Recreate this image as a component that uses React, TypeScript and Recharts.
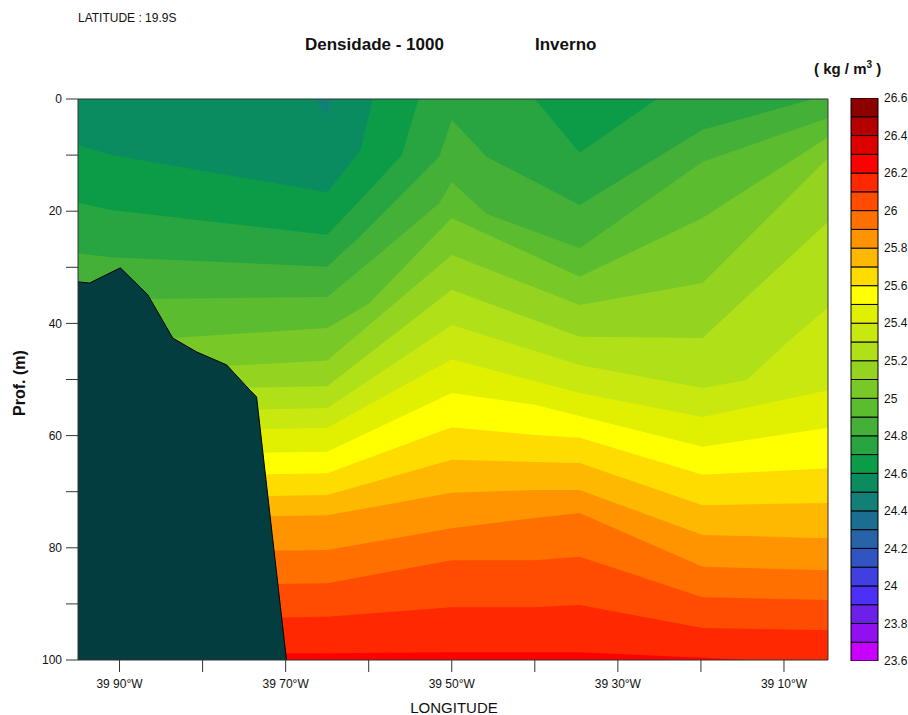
import React from "react";
import { AreaChart, Area, XAxis, YAxis, CartesianGrid, BarChart, Bar } from "recharts";

type Pt = [number, number]; // [longitude (minutes, 39°xx'W), depth (m)]

// isopycnal depths
const c245: Pt[] = [[95, 0], [66.5, 0], [65, 2.9], [64.5, 0], [4.7, 0]];
const c246: Pt[] = [[95, 8.2], [91, 10], [65, 16.6], [61, 9.2], [59.5, 0], [4.7, 0]];
const c247: Pt[] = [[95, 18.5], [91, 19.8], [65, 24.2], [61, 18], [56, 10], [54, 0], [40, 0], [34.6, 9.6], [25.3, 0], [4.7, 0]];
const c248: Pt[] = [[95, 27.5], [91, 28.2], [65, 29.9], [61, 24.4], [51.5, 10.3], [50, 3.7], [45.8, 10.3], [34.6, 18.9], [19.8, 5.5], [6.5, 0], [4.7, 0]];
const c249: Pt[] = [[95, 35.8], [65, 35.3], [60, 29.2], [51.5, 18.6], [50, 14.8], [45.8, 20.5], [34.6, 26.6], [19.8, 11.2], [4.7, 3.4]];
const c250: Pt[] = [[95, 43], [83.6, 42.6], [65, 40.8], [60, 36.5], [50, 21.2], [34.6, 31.7], [19.8, 21.2], [4.7, 6.8]];
const c251: Pt[] = [[95, 48.2], [77.1, 47.6], [65, 46.6], [50, 27.8], [34.6, 36.7], [19.8, 32.8], [4.7, 10.5]];
const c252: Pt[] = [[95, 52], [65, 51.2], [50, 34], [34.6, 42.4], [19.8, 42.6], [4.7, 21.9]];
const c253: Pt[] = [[95, 56], [65, 55.1], [50, 40.3], [34.6, 47.4], [19.8, 51.5], [14.5, 50.1], [9.3, 43], [4.7, 37.1]];
const c254: Pt[] = [[95, 59.5], [65, 58.6], [50, 46.4], [34.6, 52.4], [19.8, 56.7], [4.7, 51.9]];
const c255: Pt[] = [[95, 63.5], [65, 62.9], [50, 52.4], [40, 54.5], [34.6, 56.5], [19.8, 62], [4.7, 58.6]];
const c256: Pt[] = [[95, 67.5], [65, 66.7], [50, 58.5], [40, 59.9], [34.6, 60.4], [19.8, 67], [4.7, 65.8]];
const c257: Pt[] = [[95, 71.3], [65, 70.6], [50, 64.3], [40, 64.7], [34.6, 64.9], [19.8, 72.4], [4.7, 72]];
const c258: Pt[] = [[95, 75], [65, 74.2], [50, 70.2], [40, 69.7], [34.6, 69.7], [19.8, 77.7], [4.7, 78.3]];
const c259: Pt[] = [[95, 81], [65, 80.4], [50, 76.5], [40, 74.7], [34.6, 73.8], [19.8, 83.4], [4.7, 84]];
const c260: Pt[] = [[95, 87], [65, 86.3], [50, 82.2], [40, 82.2], [34.6, 81.6], [19.8, 88.8], [4.7, 89.3]];
const c261: Pt[] = [[95, 93], [65, 92.3], [50, 90.6], [40, 90.6], [34.6, 90.2], [19.8, 94.3], [4.7, 94.7]];
const c262: Pt[] = [[95, 99], [65, 98.8], [50, 98.6], [34.6, 98.6], [19.8, 99.6], [14.5, 100], [4.7, 100]];

// sea floor / shelf
const land: Pt[] = [[95, 32.6], [93.6, 32.8], [89.9, 30.1], [86.6, 34.9], [83.6, 42.6], [80.7, 45.1], [77.1, 47.4], [74.3, 51.9], [73.5, 53.1], [69.9, 100]];

// colour scale 23.6 .. 26.6 kg/m3
const cbLevels = [23.6, 23.7, 23.8, 23.9, 24, 24.1, 24.2, 24.3, 24.4, 24.5, 24.6, 24.7, 24.8, 24.9, 25, 25.1, 25.2, 25.3, 25.4, 25.5, 25.6, 25.7, 25.8, 25.9, 26, 26.1, 26.2, 26.3, 26.4, 26.5, 26.6];
const bandColors = [
  "#c800ff", "#9010f0", "#6c20e8", "#4c30f8", "#4040e0", "#3054c0", "#2862a8", "#1c6e90", "#138078", "#0a8c60",
  "#0c9c48", "#28a440", "#44b038", "#5cbc30", "#78c828", "#94d420", "#b0e018", "#c8e810", "#e0f000", "#ffff00",
  "#ffdc00", "#ffb800", "#ff9400", "#ff7000", "#ff4c00", "#ff2800", "#ff0000", "#dc0000", "#b40000", "#8c0000",
];
const cbTicks = [23.6, 23.8, 24, 24.2, 24.4, 24.6, 24.8, 25, 25.2, 25.4, 25.6, 25.8, 26, 26.2, 26.4, 26.6];

const lonTicks = [90, 80, 70, 60, 50, 40, 30, 20, 10];
const lonLabels = [90, 70, 50, 30, 10];
const depthTicks = [0, 10, 20, 30, 40, 50, 60, 70, 80, 90, 100];

const contours = [
  { level: 24.5, pts: c245 }, { level: 24.6, pts: c246 }, { level: 24.7, pts: c247 },
  { level: 24.8, pts: c248 }, { level: 24.9, pts: c249 }, { level: 25, pts: c250 },
  { level: 25.1, pts: c251 }, { level: 25.2, pts: c252 }, { level: 25.3, pts: c253 },
  { level: 25.4, pts: c254 }, { level: 25.5, pts: c255 }, { level: 25.6, pts: c256 },
  { level: 25.7, pts: c257 }, { level: 25.8, pts: c258 }, { level: 25.9, pts: c259 },
  { level: 26, pts: c260 }, { level: 26.1, pts: c261 }, { level: 26.2, pts: c262 },
];

const series = [
  ...contours.map((c, i) => ({ key: `c${i}`, pts: c.pts, fill: bandColors[cbLevels.indexOf(c.level)] })),
  { key: "land", pts: land, fill: "#033d3f" },
];

const lons = Array.from(new Set(series.flatMap((s) => s.pts.map((p) => p[0])))).sort((a, b) => b - a);
const rows = lons.map((lon) => {
  const row: Record<string, number> = { lon };
  series.forEach((s) => {
    const p = s.pts.find((q) => q[0] === lon);
    if (p) row[s.key] = p[1];
  });
  return row;
});

const cbRow: Record<string, number | string> = { name: "kg/m3", base: cbLevels[0] };
bandColors.forEach((_, i) => {
  cbRow[`b${i}`] = cbLevels[i + 1] - cbLevels[i];
});

const axisColor = "#333";
const tickFont = { fontSize: 12, fill: "#111" };

export default function App() {
  return (
    <div
      style={{
        position: "absolute",
        left: 0,
        top: 0,
        width: 908,
        height: 715,
        background: "#fff",
        fontFamily: "'Liberation Sans', Arial, sans-serif",
        color: "#111",
      }}
    >
      <div style={{ position: "absolute", left: 78, top: 11, fontSize: 12 }}>LATITUDE : 19.9S</div>
      <div style={{ position: "absolute", left: 305, top: 35, fontSize: 17, fontWeight: "bold", whiteSpace: "nowrap" }}>
        Densidade - 1000
      </div>
      <div style={{ position: "absolute", left: 535, top: 35, fontSize: 17, fontWeight: "bold" }}>Inverno</div>
      <div style={{ position: "absolute", left: 814, top: 60, fontSize: 15, fontWeight: "bold", whiteSpace: "nowrap" }}>
        ( kg / m<sup style={{ fontSize: 10, lineHeight: 0 }}>3</sup> )
      </div>
      <div
        style={{
          position: "absolute",
          left: 20,
          top: 383,
          transform: "translate(-50%, -50%) rotate(-90deg)",
          fontSize: 16,
          fontWeight: "bold",
          whiteSpace: "nowrap",
        }}
      >
        Prof. (m)
      </div>
      <div style={{ position: "absolute", left: 454, top: 699, transform: "translateX(-50%)", fontSize: 15 }}>
        LONGITUDE
      </div>

      <div style={{ position: "absolute", left: 0, top: 0 }}>
        <AreaChart width={908} height={715} data={rows} margin={{ top: 87, right: 68, bottom: 25, left: 38 }}>
          <CartesianGrid fill={bandColors[8]} horizontal={false} vertical={false} />
          {series.map((s) => (
            <Area
              key={s.key}
              type="linear"
              dataKey={s.key}
              baseValue={100}
              fill={s.fill}
              fillOpacity={1}
              stroke={s.key === "land" ? "#000" : "none"}
              strokeWidth={1}
              connectNulls
              dot={false}
              activeDot={false}
              isAnimationActive={false}
            />
          ))}
          <XAxis
            dataKey="lon"
            type="number"
            domain={[4.7, 95]}
            reversed
            allowDataOverflow
            ticks={lonTicks}
            interval={0}
            tickSize={12}
            tickMargin={7}
            height={30}
            stroke={axisColor}
            tick={tickFont}
            tickFormatter={(v: number) => (lonLabels.includes(v) ? `39 ${v}°W` : "")}
          />
          <XAxis
            xAxisId="top"
            orientation="top"
            dataKey="lon"
            type="number"
            domain={[4.7, 95]}
            reversed
            allowDataOverflow
            ticks={lonTicks}
            interval={0}
            tickSize={11}
            height={12}
            stroke={axisColor}
            tick={false}
          />
          <YAxis
            type="number"
            domain={[0, 100]}
            reversed
            allowDataOverflow
            ticks={depthTicks}
            interval={0}
            tickSize={12}
            tickMargin={4}
            width={40}
            stroke={axisColor}
            tick={tickFont}
            tickFormatter={(v: number) => (v % 20 === 0 ? String(v) : "")}
          />
          <YAxis
            yAxisId="right"
            orientation="right"
            type="number"
            domain={[0, 100]}
            reversed
            allowDataOverflow
            ticks={depthTicks}
            interval={0}
            tickSize={11}
            width={12}
            stroke={axisColor}
            tick={false}
          />
        </AreaChart>
      </div>

      <div style={{ position: "absolute", left: 840, top: 0 }}>
        <BarChart width={68} height={715} data={[cbRow]} barCategoryGap={0} margin={{ top: 98, right: 0, bottom: 54, left: 11 }}>
          <XAxis dataKey="name" hide />
          <YAxis
            orientation="right"
            type="number"
            domain={[23.6, 26.6]}
            allowDataOverflow
            ticks={cbTicks}
            interval={0}
            tickLine={false}
            axisLine={false}
            tickSize={0}
            tickMargin={6}
            width={30}
            tick={tickFont}
          />
          <Bar dataKey="base" stackId="cb" fill="transparent" isAnimationActive={false} />
          {bandColors.map((c, i) => (
            <Bar key={i} dataKey={`b${i}`} stackId="cb" fill={c} stroke="#000" strokeWidth={1} isAnimationActive={false} />
          ))}
        </BarChart>
      </div>
    </div>
  );
}
